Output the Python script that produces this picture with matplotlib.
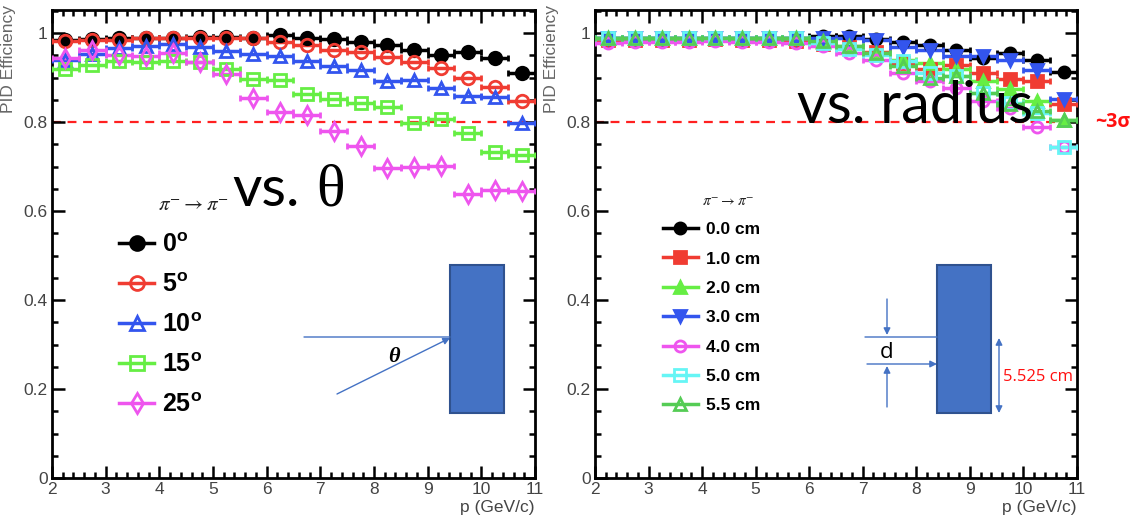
import matplotlib
matplotlib.use("Agg")
import matplotlib.pyplot as plt
import numpy as np
from matplotlib.lines import Line2D
from matplotlib.patches import Rectangle, FancyArrowPatch

W, H = 1145, 523

# momentum bins (GeV/c), bin half-width 0.25
p_bins = [2.25, 2.75, 3.25, 3.75, 4.25, 4.75, 5.25, 5.75, 6.25,
          6.75, 7.25, 7.75, 8.25, 8.75, 9.25, 9.75, 10.25, 10.75]

# PID efficiency vs. incidence angle
theta_labels = [r"$\mathbf{0^{o}}$", r"$\mathbf{5^{o}}$", r"$\mathbf{10^{o}}$",
                r"$\mathbf{15^{o}}$", r"$\mathbf{25^{o}}$"]
eff_theta_0 = [0.985, 0.987, 0.988, 0.99, 0.99, 0.991, 0.992, 0.99, 0.995,
               0.99, 0.986, 0.98, 0.973, 0.963, 0.951, 0.957, 0.943, 0.91]
eff_theta_5 = [0.983, 0.984, 0.985, 0.99, 0.989, 0.99, 0.99, 0.989, 0.981,
               0.974, 0.961, 0.957, 0.947, 0.935, 0.922, 0.9, 0.88, 0.848]
eff_theta_10 = [0.94, 0.954, 0.966, 0.97, 0.976, 0.968, 0.96, 0.953, 0.949,
                0.937, 0.926, 0.918, 0.893, 0.894, 0.876, 0.859, 0.857, 0.797]
eff_theta_15 = [0.92, 0.928, 0.938, 0.936, 0.938, 0.935, 0.92, 0.897, 0.894,
                0.864, 0.851, 0.842, 0.834, 0.798, 0.806, 0.776, 0.733, 0.727]
eff_theta_25 = [0.943, 0.962, 0.95, 0.948, 0.955, 0.935, 0.909, 0.855, 0.822,
                0.816, 0.781, 0.747, 0.696, 0.7, 0.702, 0.638, 0.648, 0.645]

# PID efficiency vs. radius
radius_labels = ["0.0 cm", "1.0 cm", "2.0 cm", "3.0 cm", "4.0 cm", "5.0 cm", "5.5 cm"]
eff_r_00 = [0.99, 0.99, 0.99, 0.99, 0.99, 0.99, 0.99, 0.99, 0.993,
            0.993, 0.987, 0.98, 0.973, 0.962, 0.945, 0.956, 0.94, 0.912]
eff_r_10 = [0.985, 0.985, 0.985, 0.985, 0.987, 0.985, 0.985, 0.983, 0.975,
            0.968, 0.958, 0.933, 0.92, 0.928, 0.91, 0.896, 0.892, 0.84]
eff_r_20 = [0.99, 0.99, 0.99, 0.99, 0.99, 0.99, 0.99, 0.988, 0.98,
            0.97, 0.955, 0.94, 0.932, 0.92, 0.892, 0.874, 0.848, 0.805]
eff_r_30 = [0.99, 0.99, 0.99, 0.99, 0.99, 0.99, 0.99, 0.988, 0.99,
            0.99, 0.985, 0.968, 0.963, 0.949, 0.948, 0.94, 0.918, 0.853]
eff_r_40 = [0.978, 0.98, 0.98, 0.98, 0.982, 0.98, 0.98, 0.978, 0.97,
            0.955, 0.94, 0.91, 0.892, 0.877, 0.847, 0.832, 0.789, 0.745]
eff_r_50 = [0.99, 0.99, 0.99, 0.99, 0.99, 0.99, 0.99, 0.988, 0.978,
            0.965, 0.95, 0.937, 0.911, 0.903, 0.866, 0.843, 0.82, 0.745]
eff_r_55 = [0.99, 0.99, 0.99, 0.99, 0.99, 0.99, 0.99, 0.988, 0.982,
            0.97, 0.955, 0.926, 0.9, 0.903, 0.866, 0.84, 0.824, 0.805]

theta_series = [eff_theta_0, eff_theta_5, eff_theta_10, eff_theta_15, eff_theta_25]
theta_style = [("o", "#000000", True), ("o", "#f03c32", False), ("^", "#3355ee", False),
               ("s", "#66ee44", False), ("d", "#ee55ee", False)]
radius_series = [eff_r_00, eff_r_10, eff_r_20, eff_r_30, eff_r_40, eff_r_50, eff_r_55]
radius_style = [("o", "#000000", True), ("s", "#f03c32", True), ("^", "#66ee44", True),
                ("v", "#3355ee", True), ("o", "#ee55ee", False), ("s", "#66f5f5", False),
                ("^", "#55cc55", False)]

plt.rcParams["font.family"] = ["Liberation Sans", "DejaVu Sans"]
plt.rcParams["mathtext.fontset"] = "custom"
plt.rcParams["mathtext.rm"] = "Liberation Sans"
plt.rcParams["mathtext.bf"] = "Liberation Sans:bold"
plt.rcParams["mathtext.it"] = "Liberation Sans:italic"


def px(x, y):
    """pixel position in the picture -> figure fraction"""
    return x / W, 1 - y / H


def style_axes(ax):
    ax.set_xlim(2, 11)
    ax.set_ylim(0, 1.052)
    ax.set_xticks(range(2, 12))
    ax.set_xticks(np.arange(2, 11.01, 0.2), minor=True)
    ax.set_yticks([0, 0.2, 0.4, 0.6, 0.8, 1.0])
    ax.set_yticklabels(["0", "0.2", "0.4", "0.6", "0.8", "1"])
    ax.set_yticks(np.arange(0, 1.051, 0.05), minor=True)
    ax.tick_params(which="both", direction="in", top=True, right=True,
                   width=1.8, colors="black", labelcolor="#444444", labelsize=12.5, pad=3)
    ax.tick_params(which="major", length=9)
    ax.tick_params(which="minor", length=4)
    for s in ax.spines.values():
        s.set_linewidth(2)
    ax.set_xlabel("p (GeV/c)", loc="right", fontsize=12.5, color="#444444", labelpad=2)
    ax.set_ylabel("PID Efficiency", loc="top", fontsize=12.5, color="#666666")
    ax.yaxis.set_label_coords(-0.075, 1.01)
    ax.axhline(0.8, color="#ff2020", ls=(0, (4, 3)), lw=1.6, zorder=1)


def draw_series(ax, series, styles, ms):
    for vals, (m, c, filled) in zip(series, styles):
        ax.errorbar(p_bins, vals, xerr=0.25, fmt=m, color=c, ms=ms,
                    mfc=c if filled else "none", mec=c, mew=2,
                    elinewidth=2.5, capsize=2, capthick=2, zorder=3)


def legend_handles(styles, ms):
    return [Line2D([0], [0], marker=m, color=c, lw=2.5, ms=ms,
                   mfc=c if filled else "none", mec=c, mew=2)
            for m, c, filled in styles]


fig = plt.figure(figsize=(W / 100, H / 100), dpi=100)
ax1 = fig.add_axes([52 / W, 45 / H, 483 / W, 468 / H])
ax2 = fig.add_axes([595 / W, 45 / H, 482 / W, 468 / H])

# ---- left: angle scan
style_axes(ax1)
draw_series(ax1, theta_series, theta_style, ms=9)
leg1 = ax1.legend(legend_handles(theta_style, 10), theta_labels, loc="upper left",
                  bbox_to_anchor=px(119, 233), bbox_transform=fig.transFigure,
                  frameon=False, fontsize=18, handlelength=1.4, handletextpad=0.3,
                  labelspacing=0.64, borderpad=0, borderaxespad=0)
fig.text(*px(158, 205), r"$\pi^{-}\rightarrow\pi^{-}$", fontsize=15, va="center",
         color="#222222", math_fontfamily="stix")

# ---- right: radius scan
style_axes(ax2)
draw_series(ax2, radius_series, radius_style, ms=8)
leg2 = ax2.legend(legend_handles(radius_style, 8), radius_labels, loc="upper left",
                  bbox_to_anchor=px(663, 222), bbox_transform=fig.transFigure,
                  frameon=False, prop={"size": 12.5, "weight": "bold"},
                  handlelength=2.0, handletextpad=0.45, labelspacing=0.82,
                  borderpad=0, borderaxespad=0)
fig.text(*px(702, 202), r"$\pi^{-}\rightarrow\pi^{-}$", fontsize=11, va="center",
         color="#222222", math_fontfamily="stix")

# ---- slide annotations
fig.text(*px(232, 206), "vs.", fontsize=41, family="Lato", va="baseline")
fig.text(*px(316, 206), "θ", fontsize=43, family="Liberation Serif", va="baseline")
fig.text(*px(797, 123), "vs. radius", fontsize=41.5, family="Lato", va="baseline")
fig.text(*px(1095, 122), "~3σ", fontsize=14, color="#ff1010", weight="bold",
         va="center", family="Open Sans")

blue = "#4472c4"
for x0 in (450, 937):
    fig.add_artist(Rectangle(px(x0, 413), 54 / W, 148 / H, transform=fig.transFigure,
                             fc=blue, ec="#2f528f", lw=1.5, zorder=5))


def seg(a, b, style="-", ms=10):
    fig.add_artist(FancyArrowPatch(px(*a), px(*b), transform=fig.transFigure,
                                   arrowstyle=style, mutation_scale=ms, color=blue,
                                   lw=1, shrinkA=0, shrinkB=0, zorder=5))


# angle sketch
seg((304, 337), (450, 337))
seg((337, 394), (450, 338), "-|>")
fig.text(*px(394, 357), "θ", fontsize=16, family="Liberation Serif", style="italic",
         weight="bold", ha="center", va="center")

# radius sketch
seg((865, 337), (937, 337))
seg((867, 364), (937, 364), "-|>")
seg((887, 299), (887, 335), "-|>")
seg((887, 407), (887, 366), "-|>")
fig.text(*px(887, 353), "d", fontsize=16, family="Open Sans", ha="center", va="center")
seg((999, 338), (999, 413), "<|-|>")
fig.text(*px(1003, 377), "5.525 cm", fontsize=12, color="#ff1010", family="Open Sans",
         va="center")

fig.savefig("out.png", dpi=100, facecolor="white")
